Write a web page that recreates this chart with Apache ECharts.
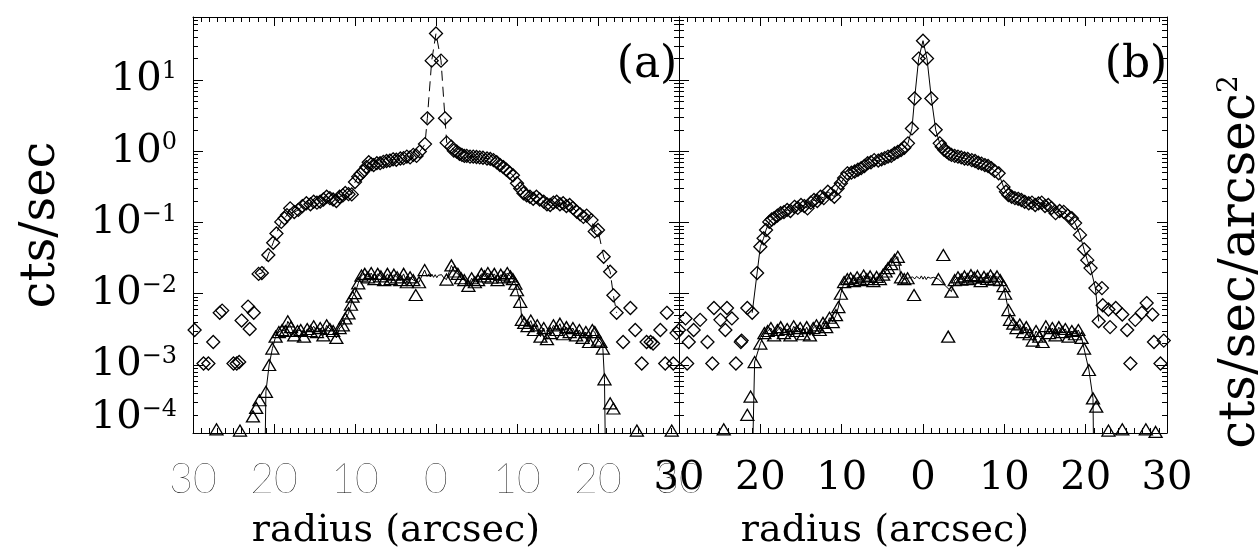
<!DOCTYPE html>
<html><head><meta charset="utf-8">
<script src="https://cdn.jsdelivr.net/npm/echarts@6/dist/echarts.min.js"></script>
<style>html,body{margin:0;padding:0;background:#fff}#c{width:1258px;height:556px}</style>
</head><body><div id="c"></div>
<script>
// ---- axis settings ----
const xRange = [-30, 30];
const xInterval = 10;
const yRange = [1.11e-4, 76.6];
const panelLabels = ['(a)', '(b)'];
const xTitle = 'radius (arcsec)';
const yTitleLeft = 'cts/sec';
const yTitleRight = 'cts/sec/arcsec';

// ---- panel (a) ----
// diamonds joined by the dashed profile line
const diamondsA = [
[-21.9,0.019],[-21.5,0.0195],[-20.7,0.035],[-20.1,0.052],[-19.7,0.07],[-19.1,0.102],[-18.7,0.115],[-18.4,0.127],[-18.0,0.158],[-17.5,0.14],[-17.0,0.15],[-16.5,0.17],[-16.0,0.186],[-15.5,0.18],[-15.1,0.196],[-14.7,0.19],[-14.3,0.196],[-13.9,0.21],[-13.5,0.23],[-13.1,0.22],[-12.7,0.21],[-12.3,0.2],[-11.9,0.23],[-11.5,0.24],[-11.2,0.26],[-10.8,0.25],[-10.4,0.248],[-10.0,0.37],[-9.6,0.44],[-9.3,0.48],[-9.0,0.52],[-8.6,0.6],[-8.3,0.7],[-8.0,0.66],[-7.7,0.64],[-7.3,0.68],[-6.9,0.68],[-6.5,0.71],[-6.1,0.73],[-5.7,0.74],[-5.3,0.77],[-4.9,0.76],[-4.4,0.79],[-4.0,0.8],[-3.6,0.84],[-3.2,0.82],[-2.8,0.89],[-2.4,0.86],[-2.0,0.99],[-1.36,1.26],[-1.07,2.9],[-0.53,18.7],[0,45],[0.62,18.7],[1.11,2.9],[1.32,1.32],[1.9,1.16],[2.2,1.02],[2.55,0.99],[2.9,0.92],[3.2,0.89],[3.5,0.86],[3.8,0.86],[4.2,0.84],[4.6,0.84],[5.0,0.83],[5.4,0.82],[5.8,0.81],[6.3,0.79],[6.7,0.78],[7.1,0.75],[7.5,0.7],[7.9,0.64],[8.3,0.6],[8.7,0.55],[9.1,0.5],[9.5,0.46],[10.0,0.355],[10.4,0.3],[10.8,0.257],[11.2,0.24],[11.6,0.23],[12.0,0.215],[12.4,0.23],[12.8,0.21],[13.3,0.196],[13.7,0.18],[14.1,0.176],[14.5,0.19],[14.9,0.196],[15.3,0.18],[15.7,0.186],[16.1,0.17],[16.5,0.176],[16.9,0.16],[17.4,0.141],[17.8,0.13],[18.2,0.12],[18.6,0.125],[19.2,0.108],[19.6,0.075],[20.0,0.0785],[20.7,0.033],[21.5,0.0204],[21.9,0.0095],[22.3,0.0054]
];
// outer diamonds without connecting line
const diamondsOuterA = [
[-29.8,0.0031],[-28.7,0.00105],[-28.1,0.00105],[-27.5,0.0021],[-26.7,0.0054],[-26.4,0.0058],[-25.0,0.00105],[-24.6,0.00105],[-24.3,0.0011],[-24.0,0.0042],[-23.2,0.0066],[-23.0,0.0032],[-22.5,0.0054],[23.1,0.0021],[24.0,0.0063],[24.6,0.0031],[25.4,0.00105],[26.0,0.0021],[26.5,0.0021],[26.8,0.002],[27.7,0.0031],[28.3,0.00105],[28.5,0.0054],[29.3,0.00105],[29.7,0.0028]
];
// triangles joined by the solid profile line
const trianglesA = [
[-21.0,4.2e-4],[-20.6,1.0e-3],[-20.2,1.7e-3],[-19.8,2.5e-3],[-19.4,2.9e-3],[-19.0,3.1e-3],[-18.6,3.0e-3],[-18.3,4.1e-3],[-17.9,3.4e-3],[-17.5,2.6e-3],[-17.1,3.0e-3],[-16.7,3.1e-3],[-16.3,2.5e-3],[-15.9,3.2e-3],[-15.5,3.0e-3],[-15.1,3.5e-3],[-14.7,2.9e-3],[-14.3,3.3e-3],[-13.9,2.6e-3],[-13.5,3.6e-3],[-13.1,3.2e-3],[-12.7,3.0e-3],[-12.3,2.4e-3],[-11.9,3.3e-3],[-11.5,3.6e-3],[-11.2,4.5e-3],[-10.8,5.3e-3],[-10.5,7.0e-3],[-10.3,9.1e-3],[-10.0,0.0102],[-9.6,0.014],[-9.2,0.018],[-8.8,0.019],[-8.4,0.017],[-8.0,0.0195],[-7.6,0.016],[-7.2,0.019],[-6.8,0.0175],[-6.4,0.0155],[-6.0,0.019],[-5.6,0.016],[-5.2,0.0185],[-4.8,0.017],[-4.4,0.0155],[-4.0,0.019],[-3.6,0.0145],[-3.2,0.017],[-2.8,0.0155],[-2.1,0.0145],[-1.4,0.0215],[1.3,0.0158],[1.9,0.025],[2.3,0.0205],[2.7,0.019],[3.1,0.0165],[3.5,0.0155],[4.0,0.0129],[4.4,0.0165],[4.8,0.0145],[5.2,0.0155],[5.6,0.019],[6.0,0.0175],[6.4,0.0195],[6.8,0.0168],[7.2,0.019],[7.6,0.0155],[8.0,0.0185],[8.4,0.017],[8.8,0.0195],[9.2,0.0175],[9.5,0.016],[9.8,0.0138],[10.0,0.0112],[10.4,0.0077],[10.6,0.0043],[10.9,0.0039],[11.3,0.0035],[11.7,0.0042],[12.1,0.0031],[12.5,0.0036],[12.9,0.0025],[13.3,0.0033],[13.7,0.0023],[14.1,0.0028],[14.5,0.0036],[14.9,0.0031],[15.3,0.0038],[15.7,0.0027],[16.1,0.0034],[16.5,0.0029],[16.9,0.0033],[17.3,0.0026],[17.7,0.0031],[18.1,0.0024],[18.5,0.0029],[18.9,0.0021],[19.3,0.0031],[19.6,0.0029],[20.0,0.0022],[20.3,0.0021],[20.6,0.0017],[20.8,6.3e-4]
];
// vertices of the triangle profile line that carry no symbol
const triangleLineOnlyA = [
[-21.2,1e-5],[-1.1,0.0175],[-0.9,0.019],[-0.7,0.0172],[-0.5,0.0188],[-0.3,0.017],[-0.1,0.0185],[0.1,0.0168],[0.3,0.0182],[0.5,0.0172],[0.7,0.0185],[0.9,0.017],[21.0,1e-5]
];
// triangles without connecting line
const trianglesLooseA = [
[-27.1,1.25e-4],[-24.2,1.2e-4],[-22.6,1.9e-4],[-22.2,2.5e-4],[-21.8,3.2e-4],[-2.5,0.0096],[21.5,2.9e-4],[21.9,2.45e-4],[24.8,1.2e-4],[29.1,1.2e-4]
];

// ---- panel (b) ----
const diamondsB = [
[-21.0,0.0054],[-20.4,0.0195],[-20.0,0.0457],[-19.6,0.06],[-19.3,0.0785],[-18.9,0.102],[-18.6,0.11],[-18.3,0.115],[-17.9,0.125],[-17.5,0.135],[-17.1,0.14],[-16.7,0.15],[-16.3,0.145],[-15.8,0.166],[-15.4,0.16],[-15.0,0.176],[-14.6,0.17],[-14.2,0.158],[-13.8,0.19],[-13.4,0.207],[-13.0,0.2],[-12.6,0.23],[-12.2,0.22],[-11.7,0.27],[-11.3,0.25],[-10.9,0.23],[-10.5,0.3],[-10.1,0.355],[-9.7,0.42],[-9.3,0.49],[-8.8,0.5],[-8.4,0.52],[-8.0,0.55],[-7.6,0.58],[-7.2,0.62],[-6.8,0.68],[-6.4,0.7],[-6.0,0.75],[-5.5,0.74],[-5.1,0.77],[-4.7,0.8],[-4.3,0.84],[-3.9,0.86],[-3.5,0.93],[-3.1,0.98],[-2.7,1.04],[-2.3,1.12],[-1.85,1.29],[-1.36,2.09],[-1.03,5.5],[-0.53,20],[0,35.6],[0.49,20],[1.03,5.5],[1.56,2.0],[2.06,1.29],[2.3,1.16],[2.6,1.05],[2.9,0.99],[3.2,0.93],[3.5,0.89],[3.9,0.86],[4.3,0.84],[4.7,0.82],[5.1,0.79],[5.5,0.78],[6.0,0.75],[6.4,0.73],[6.8,0.69],[7.2,0.67],[7.6,0.64],[8.0,0.62],[8.4,0.58],[8.8,0.53],[9.3,0.49],[9.9,0.316],[10.2,0.27],[10.5,0.243],[10.9,0.23],[11.3,0.22],[11.7,0.215],[12.1,0.207],[12.5,0.195],[13.0,0.186],[13.4,0.19],[13.8,0.176],[14.2,0.185],[14.6,0.19],[15.0,0.17],[15.4,0.176],[15.8,0.16],[16.3,0.135],[16.8,0.145],[17.3,0.141],[17.8,0.125],[18.3,0.115],[18.7,0.098],[19.3,0.067],[19.8,0.042],[20.2,0.0296],[20.6,0.0229],[21.2,0.012],[21.6,0.0041]
];
const diamondsOuterB = [
[-30.0,0.0031],[-29.2,0.0045],[-29.0,0.00105],[-28.8,0.0021],[-28.2,0.0031],[-27.4,0.0043],[-26.5,0.0021],[-25.9,0.00105],[-25.7,0.0063],[-24.9,0.0043],[-24.3,0.0031],[-24.1,0.0063],[-23.5,0.0045],[-23.0,0.00105],[-22.4,0.0021],[-22.3,0.0022],[-21.6,0.0063],[22.0,0.012],[22.1,0.0069],[22.8,0.006],[23.0,0.0034],[23.7,0.0063],[24.5,0.0051],[25.1,0.0031],[25.5,0.00105],[26.1,0.0043],[26.9,0.0054],[27.5,0.0074],[28.2,0.0051],[28.4,0.0021],[29.2,0.00105],[29.6,0.0022]
];
const trianglesB = [
[-20.7,1.1e-3],[-20.0,2.0e-3],[-19.5,2.8e-3],[-19.1,3.0e-3],[-18.7,3.3e-3],[-18.3,2.6e-3],[-17.9,3.1e-3],[-17.5,3.4e-3],[-17.1,2.8e-3],[-16.7,3.2e-3],[-16.3,2.6e-3],[-15.9,3.5e-3],[-15.5,3.0e-3],[-15.1,3.3e-3],[-14.7,2.7e-3],[-14.3,3.4e-3],[-13.9,2.6e-3],[-13.5,3.3e-3],[-13.1,3.6e-3],[-12.7,3.1e-3],[-12.3,3.9e-3],[-11.9,3.4e-3],[-11.5,4.6e-3],[-11.1,4.0e-3],[-10.7,5.0e-3],[-10.4,6.5e-3],[-10.1,0.01],[-9.7,0.0146],[-9.3,0.016],[-8.9,0.0165],[-8.5,0.015],[-8.1,0.017],[-7.7,0.0155],[-7.3,0.018],[-6.9,0.016],[-6.5,0.0175],[-6.1,0.015],[-5.7,0.0172],[-5.3,0.016],[-4.9,0.0185],[-4.6,0.0205],[-4.3,0.0229],[-3.9,0.026],[-3.5,0.03],[-3.1,0.033],[-2.7,0.017],[-2.3,0.016],[-1.9,0.0165],[1.9,0.016],[3.5,0.0107],[3.9,0.0155],[4.3,0.017],[4.7,0.0158],[5.1,0.0175],[5.5,0.016],[5.9,0.0182],[6.3,0.0168],[6.7,0.0178],[7.1,0.015],[7.5,0.0172],[7.9,0.0162],[8.3,0.018],[8.7,0.0158],[9.1,0.0175],[9.5,0.0155],[9.9,0.0128],[10.1,0.01],[10.5,0.0059],[10.7,0.0043],[11.1,0.0038],[11.5,0.0033],[11.9,0.0037],[12.3,0.0029],[12.7,0.0034],[13.1,0.0027],[13.5,0.0022],[13.9,0.003],[14.3,0.0025],[14.7,0.0021],[15.1,0.0035],[15.5,0.0028],[15.9,0.0033],[16.3,0.0026],[16.7,0.0034],[17.1,0.0029],[17.5,0.0032],[17.9,0.0025],[18.3,0.003],[18.7,0.0027],[19.1,0.0031],[19.5,0.0024],[19.8,0.0017],[20.4,8.5e-4],[20.9,3.4e-4]
];
const triangleLineOnlyB = [
[-21.1,1e-5],[-1.6,0.0168],[-1.3,0.0172],[-1.0,0.0162],[-0.8,0.0175],[-0.6,0.018],[-0.4,0.0162],[-0.2,0.0178],[0,0.016],[0.2,0.0175],[0.4,0.0158],[0.6,0.0172],[0.9,0.0165],[1.3,0.017],[21.05,1e-5]
];
const trianglesLooseB = [
[-24.5,1.25e-4],[-21.6,2.0e-4],[-21.2,3.6e-4],[-1.1,0.0096],[2.5,0.035],[3.1,0.0025],[21.3,2.6e-4],[22.8,1.2e-4],[24.5,1.25e-4],[27.4,1.25e-4],[28.6,1.15e-4]
];

// ---- build ----
const serif = 'DejaVu Serif';
function merge(markers, lineOnly) {
  const pts = markers.map(p => ({ value: p }))
    .concat(lineOnly.map(p => ({ value: p, symbol: 'none' })));
  pts.sort((a, b) => a.value[0] - b.value[0]);
  return pts;
}
const supRich = {
  b: { fontFamily: serif, fontSize: 40, color: '#000', lineHeight: 40 },
  s: { fontFamily: serif, fontSize: 24, color: '#000', lineHeight: 24, verticalAlign: 'top' }
};
function powLabel(v) {
  const e = Math.round(Math.log10(v));
  return '{b|10}{s|' + (e < 0 ? '\u2212' + (-e) : String(e)) + '}';
}
const tickStyle = { color: '#000', width: 1 };
function xAxisDef(grid, pos, label) {
  return {
    type: 'value', gridIndex: grid, position: pos, min: xRange[0], max: xRange[1], interval: xInterval,
    axisLine: { show: true, onZero: false, lineStyle: tickStyle },
    axisTick: { show: true, inside: true, length: 9, lineStyle: tickStyle },
    minorTick: { show: true, splitNumber: 10, length: 5, lineStyle: tickStyle },
    splitLine: { show: false }, minorSplitLine: { show: false },
    axisLabel: label ? Object.assign({ show: true, formatter: v => String(Math.abs(v)), margin: 26 }, label) : { show: false }
  };
}
function yAxisDef(grid, pos, showLabel) {
  return {
    type: 'log', logBase: 10, gridIndex: grid, position: pos, min: yRange[0], max: yRange[1],
    axisLine: { show: true, onZero: false, lineStyle: tickStyle },
    axisTick: { show: true, inside: true, length: 10, lineStyle: tickStyle },
    minorTick: { show: true, splitNumber: 9, length: 5, lineStyle: tickStyle },
    splitLine: { show: false }, minorSplitLine: { show: false },
    axisLabel: showLabel ? { show: true, formatter: powLabel, rich: supRich, margin: 16, showMinLabel: false, showMaxLabel: false } : { show: false }
  };
}
const hollow = { color: 'rgba(0,0,0,0)', borderColor: '#000', borderWidth: 1.3, opacity: 1 };
function lineSeries(markers, lineOnly, xi, yi, sym, size, dash) {
  return {
    type: 'line', xAxisIndex: xi, yAxisIndex: yi, data: merge(markers, lineOnly),
    symbol: sym, symbolSize: size, showSymbol: true, showAllSymbol: true,
    lineStyle: { color: '#000', width: 1, type: dash ? [10, 6] : 'solid' },
    itemStyle: hollow, clip: true, animation: false, z: 3
  };
}
function looseSeries(markers, xi, yi, sym, size) {
  return {
    type: 'scatter', xAxisIndex: xi, yAxisIndex: yi, data: markers,
    symbol: sym, symbolSize: size, itemStyle: hollow, clip: true, animation: false, z: 3,
    emphasis: { disabled: true }
  };
}
function txt(x, y, text, size, extra) {
  return Object.assign({
    type: 'text', x: x, y: y, z: 10,
    style: { text: text, font: size + 'px "' + serif + '"', fontFamily: serif, fontSize: size, fill: '#000', align: 'center', verticalAlign: 'middle', textAlign: 'center', textVerticalAlign: 'middle' }
  }, extra || {});
}

const sansLabel = { fontFamily: 'Lato', fontWeight: 200, fontSize: 41, color: '#000' };
const serifLabel = { fontFamily: serif, fontSize: 40, color: '#000' };
const DIA = [13, 13], TRI = [13, 11];

const option = {
  backgroundColor: '#fff',
  animation: false,
  grid: [
    { left: 193, top: 17, width: 486, height: 416, containLabel: false },
    { left: 679, top: 17, width: 488, height: 416, containLabel: false }
  ],
  xAxis: [
    xAxisDef(0, 'bottom', sansLabel), xAxisDef(0, 'top', null),
    xAxisDef(1, 'bottom', serifLabel), xAxisDef(1, 'top', null)
  ],
  yAxis: [
    yAxisDef(0, 'left', true), yAxisDef(0, 'right', false),
    yAxisDef(1, 'left', false), yAxisDef(1, 'right', false)
  ],
  series: [
    lineSeries(diamondsA, [], 0, 0, 'diamond', DIA, true),
    looseSeries(diamondsOuterA, 0, 0, 'diamond', DIA),
    lineSeries(trianglesA, triangleLineOnlyA, 0, 0, 'triangle', TRI, false),
    looseSeries(trianglesLooseA, 0, 0, 'triangle', TRI),
    lineSeries(diamondsB, [], 2, 2, 'diamond', DIA, false),
    looseSeries(diamondsOuterB, 2, 2, 'diamond', DIA),
    lineSeries(trianglesB, triangleLineOnlyB, 2, 2, 'triangle', TRI, false),
    looseSeries(trianglesLooseB, 2, 2, 'triangle', TRI)
  ],
  graphic: [
    { type: 'text', x: 177, y: 418, z: 10, style: { text: powLabel(1e-4), rich: supRich, fontFamily: serif, align: 'right', verticalAlign: 'middle', textAlign: 'right', textVerticalAlign: 'middle' } },
    txt(647, 66, panelLabels[0], 44),
    txt(1136, 66, panelLabels[1], 44),
    txt(396, 531, xTitle, 38),
    txt(885, 531, xTitle, 38),
    txt(42, 225, yTitleLeft, 48, { rotation: Math.PI / 2 }),
    { type: 'text', x: 1241, y: 262, z: 10, rotation: Math.PI / 2,
      style: { text: '{t|' + yTitleRight + '}{s|2}', fontFamily: serif, align: 'center', verticalAlign: 'middle', textAlign: 'center', textVerticalAlign: 'middle',
        rich: { t: { fontFamily: serif, fontSize: 50, color: '#000', lineHeight: 50 }, s: { fontFamily: serif, fontSize: 28, color: '#000', lineHeight: 28, verticalAlign: 'top' } } } }
  ]
};
const chart = echarts.init(document.getElementById('c'), null, { renderer: 'canvas', width: 1258, height: 556 });
chart.setOption(option);
</script>
</body></html>
